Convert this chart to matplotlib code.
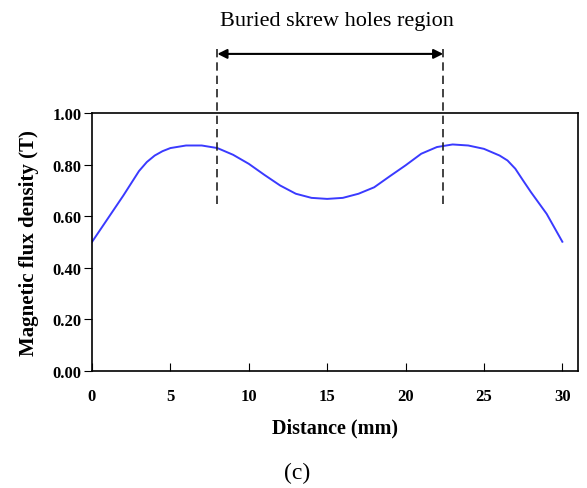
import numpy as np
from matplotlib import pyplot as plt

# values
distance = [0, 1, 2, 3, 3.5, 4, 4.5, 5, 6, 7, 8, 9, 10, 11, 12, 13, 14, 15,
            16, 17, 18, 19, 20, 21, 22, 23, 24, 25, 26, 26.5, 27, 27.5, 28, 29, 30]
flux = [0.50, 0.59, 0.68, 0.775, 0.81, 0.835, 0.852, 0.864, 0.874, 0.874, 0.864,
        0.838, 0.803, 0.76, 0.719, 0.687, 0.671, 0.667, 0.671, 0.687, 0.712,
        0.755, 0.797, 0.842, 0.868, 0.878, 0.874, 0.861, 0.835, 0.816, 0.784,
        0.738, 0.693, 0.609, 0.501]
region = [8.0, 22.4]
xticks = [0, 5, 10, 15, 20, 25, 30]
yticks = [0.0, 0.2, 0.4, 0.6, 0.8, 1.0]

plt.rcParams['font.family'] = ['Liberation Serif', 'DejaVu Serif']

fig = plt.figure(figsize=(5.87, 4.89), dpi=100)
ax = fig.add_axes([0.1567, 0.2393, 0.828, 0.5276])

ax.plot(distance, flux, color='#3a3aff', lw=1.4)

ax.set_xlim(0, 31)
ax.set_ylim(0, 1.0)
ax.set_xticks(xticks)
ax.set_yticks(yticks)
ax.set_yticklabels([f"{v:.2f}" for v in yticks])
ax.tick_params(axis='x', direction='in', length=5.5, pad=12, labelsize=12)
ax.tick_params(axis='y', direction='out', length=5.5, pad=2, labelsize=12)
for lab in ax.get_xticklabels() + ax.get_yticklabels():
    lab.set_fontweight('bold')
for s in ax.spines.values():
    s.set_linewidth(1.2)

ax.set_xlabel("Distance (mm)", fontsize=14.5, fontweight='bold', labelpad=10)
ax.set_ylabel("Magnetic flux density (T)", fontsize=15, fontweight='bold', labelpad=10)

# buried skrew holes region markers
for xr in region:
    ax.plot([xr, xr], [0.647, 1.256], ls=(0, (5, 3)), color='#222222', lw=1.2,
            clip_on=False)
ax.annotate('', xy=(region[0], 1.229), xytext=(region[1], 1.229),
            arrowprops=dict(arrowstyle='<|-|>', color='black', lw=1.5,
                            mutation_scale=14, shrinkA=0, shrinkB=0),
            annotation_clip=False)
ax.text(15.6, 1.357, "Buried skrew holes region", ha='center', va='center',
        fontsize=16)

fig.text(0.506, 0.031, "(c)", ha='center', va='center', fontsize=17)

plt.savefig("out.png", dpi=100)
